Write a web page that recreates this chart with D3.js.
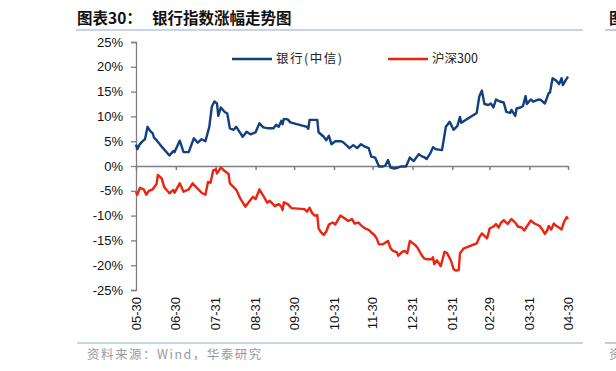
<!DOCTYPE html>
<html>
<head>
<meta charset="utf-8">
<script src="https://cdn.jsdelivr.net/npm/d3@7"></script>
<style>
  body { margin: 0; background: #fff; }
  svg { display: block; }
</style>
</head>
<body>
<svg width="616" height="371"></svg>
<script>
// 银行(中信) index, cumulative change in %
var bankDates = ["2023-05-30","2023-05-31","2023-06-02","2023-06-05","2023-06-06","2023-06-08","2023-06-10","2023-06-12","2023-06-13","2023-06-15",
  "2023-06-20","2023-06-25","2023-06-28","2023-06-29","2023-07-03","2023-07-06","2023-07-10","2023-07-14","2023-07-17","2023-07-20",
  "2023-07-23","2023-07-26","2023-07-28","2023-07-30","2023-08-01","2023-08-02","2023-08-04","2023-08-07","2023-08-09","2023-08-11",
  "2023-08-14","2023-08-16","2023-08-18","2023-08-21","2023-08-24","2023-08-27","2023-08-31","2023-09-03","2023-09-06","2023-09-10",
  "2023-09-14","2023-09-16","2023-09-18","2023-09-20","2023-09-21","2023-09-22","2023-09-25","2023-09-27","2023-10-10","2023-10-11",
  "2023-10-12","2023-10-18","2023-10-19","2023-10-23","2023-10-25","2023-10-27","2023-10-29","2023-11-01","2023-11-05","2023-11-07",
  "2023-11-10","2023-11-12","2023-11-15","2023-11-18","2023-11-21","2023-11-24","2023-11-27","2023-11-29","2023-12-02","2023-12-05",
  "2023-12-08","2023-12-10","2023-12-12","2023-12-14","2023-12-17","2023-12-20","2023-12-22","2023-12-26","2023-12-29","2024-01-01",
  "2024-01-05","2024-01-07","2024-01-09","2024-01-11","2024-01-14","2024-01-16","2024-01-18","2024-01-23","2024-01-26","2024-01-29",
  "2024-02-01","2024-02-04","2024-02-06","2024-02-07","2024-02-19","2024-02-21","2024-02-23","2024-02-25","2024-02-28","2024-03-01",
  "2024-03-03","2024-03-05","2024-03-08","2024-03-11","2024-03-13","2024-03-16","2024-03-17","2024-03-20","2024-03-21","2024-03-24",
  "2024-03-26","2024-03-28","2024-03-29","2024-04-01","2024-04-03","2024-04-07","2024-04-09","2024-04-12","2024-04-15","2024-04-16",
  "2024-04-18","2024-04-21","2024-04-23","2024-04-25","2024-04-26","2024-04-28","2024-04-30"];
var bankValues = [4.3,3.4,4.4,5.2,5.4,7.9,7.1,6.6,5.7,5.2,
  3.6,2.1,3.0,2.8,5.1,2.8,2.8,5.6,4.7,5.4,
  5.0,7.9,12.0,13.0,12.6,10.1,11.8,10.9,10.6,7.6,
  7.3,7.9,7.1,5.9,6.9,6.4,6.8,8.6,7.8,7.6,
  7.6,8.3,7.9,9.1,8.4,9.5,9.4,8.8,7.9,7.5,
  9.3,9.3,6.8,5.9,5.2,6.1,4.4,5.0,5.0,4.8,
  4.1,3.6,4.2,3.6,4.4,3.9,3.6,1.9,1.7,-0.1,
  -0.1,0.1,1.2,-0.3,-0.5,-0.3,-0.1,-0.1,1.7,1.0,
  2.4,2.0,1.8,1.4,2.6,3.8,3.4,3.2,7.9,8.9,
  7.3,8.1,9.9,8.7,10.7,14.0,15.2,12.5,12.3,12.6,
  11.8,13.4,13.0,12.8,10.9,10.7,11.3,10.1,11.6,11.8,
  12.1,14.1,12.5,13.4,13.0,13.4,13.3,12.6,14.7,14.8,
  17.7,17.2,16.5,17.7,16.3,17.2,18.0];

// 沪深300, cumulative change in %
var hsDates = ["2023-05-30","2023-05-31","2023-06-02","2023-06-05","2023-06-07","2023-06-09","2023-06-12","2023-06-15","2023-06-16","2023-06-19",
  "2023-06-21","2023-06-25","2023-06-28","2023-06-29","2023-07-03","2023-07-06","2023-07-10","2023-07-13","2023-07-16","2023-07-20",
  "2023-07-23","2023-07-25","2023-07-27","2023-07-29","2023-07-31","2023-08-01","2023-08-04","2023-08-06","2023-08-10","2023-08-11",
  "2023-08-16","2023-08-19","2023-08-23","2023-08-25","2023-08-29","2023-08-31","2023-09-03","2023-09-06","2023-09-09","2023-09-11",
  "2023-09-15","2023-09-18","2023-09-20","2023-09-21","2023-09-22","2023-09-25","2023-09-28","2023-10-08","2023-10-10","2023-10-12",
  "2023-10-14","2023-10-16","2023-10-18","2023-10-19","2023-10-21","2023-10-23","2023-10-25","2023-10-27","2023-10-30","2023-11-01",
  "2023-11-03","2023-11-05","2023-11-09","2023-11-11","2023-11-14","2023-11-16","2023-11-19","2023-11-22","2023-11-25","2023-11-27",
  "2023-11-29","2023-12-01","2023-12-03","2023-12-05","2023-12-08","2023-12-12","2023-12-14","2023-12-16","2023-12-19","2023-12-20",
  "2023-12-23","2023-12-25","2023-12-27","2023-12-29","2024-01-02","2024-01-04","2024-01-07","2024-01-09","2024-01-11","2024-01-15",
  "2024-01-16","2024-01-17","2024-01-19","2024-01-22","2024-01-25","2024-01-27","2024-01-30","2024-02-01","2024-02-03","2024-02-05",
  "2024-02-06","2024-02-09","2024-02-19","2024-02-21","2024-02-23","2024-02-25","2024-02-27","2024-02-28","2024-02-29","2024-03-03",
  "2024-03-05","2024-03-07","2024-03-09","2024-03-11","2024-03-14","2024-03-17","2024-03-20","2024-03-22","2024-03-25","2024-03-27",
  "2024-03-29","2024-04-01","2024-04-04","2024-04-08","2024-04-10","2024-04-12","2024-04-14","2024-04-15","2024-04-17","2024-04-19",
  "2024-04-21","2024-04-23","2024-04-25","2024-04-27","2024-04-29","2024-04-30"];
var hsValues = [-5.2,-5.8,-4.4,-4.7,-5.8,-5.0,-4.7,-3.6,-1.8,-2.5,
  -4.3,-5.5,-4.8,-5.4,-3.5,-5.2,-4.7,-3.5,-4.3,-5.4,
  -5.8,-3.2,-3.4,-0.9,-0.7,-1.5,-0.3,-0.8,-1.6,-3.5,
  -4.8,-6.5,-8.2,-7.5,-6.2,-6.7,-4.7,-6.0,-7.4,-7.0,
  -8.1,-7.7,-8.2,-8.9,-7.3,-7.7,-8.5,-8.7,-9.2,-8.4,
  -9.5,-10.0,-9.9,-12.6,-13.4,-13.9,-13.2,-11.8,-11.4,-11.8,
  -10.9,-10.0,-10.7,-11.1,-10.7,-11.6,-11.4,-12.2,-12.7,-12.9,
  -13.4,-13.8,-14.5,-15.8,-15.8,-15.1,-16.6,-17.1,-17.4,-18.1,
  -17.3,-17.1,-17.6,-15.1,-15.9,-16.5,-17.9,-18.6,-18.8,-18.8,
  -18.4,-19.8,-19.0,-20.2,-17.3,-17.6,-19.1,-20.8,-21.1,-21.0,
  -17.6,-16.6,-15.6,-14.4,-13.6,-14.1,-14.6,-13.7,-12.6,-12.2,
  -11.7,-12.4,-11.4,-10.9,-11.7,-10.7,-11.4,-12.2,-12.4,-13.0,
  -12.2,-11.0,-11.6,-12.1,-12.8,-13.7,-12.9,-12.1,-12.8,-11.6,
  -12.1,-12.4,-12.8,-11.2,-10.3,-10.7];

var tickDates = ["2023-05-30","2023-06-30","2023-07-31","2023-08-31","2023-09-30","2023-10-31",
  "2023-11-30","2023-12-31","2024-01-31","2024-02-29","2024-03-31","2024-04-30"];
var yTicks = [-25,-20,-15,-10,-5,0,5,10,15,20,25];
var seriesNames = ["银行(中信)", "沪深300"];

var parse = d3.timeParse("%Y-%m-%d");
var latin = "'Liberation Sans', Arial, sans-serif",
    cjk = "'Noto Sans CJK SC', 'Noto Sans', sans-serif";
var blue = "#123f80", red = "#ec2311";

var svg = d3.select("svg"),
    margin = {top: 42, right: 48, bottom: 81, left: 136},
    width = +svg.attr("width"),
    height = +svg.attr("height");

var x = d3.scaleTime()
    .domain([parse(tickDates[0]), parse(tickDates[tickDates.length - 1])])
    .range([margin.left, width - margin.right]);
var y = d3.scaleLinear().domain([-25, 25]).range([height - margin.bottom, margin.top]);

var bank = d3.zip(bankDates.map(parse), bankValues),
    hs = d3.zip(hsDates.map(parse), hsValues);

// title + rules
function title(xp, s) {
  svg.append("text").attr("x", xp).attr("y", 24)
      .attr("font-family", cjk).attr("font-weight", "bold").attr("font-size", 15.5).attr("fill", "#111")
      .text(s);
}
title(77, "图表30：");
title(152, "银行指数涨幅走势图");
title(609, "图");
svg.append("line").attr("x1", 76).attr("x2", 583).attr("y1", 30).attr("y2", 30)
    .attr("stroke", "#8faad2").attr("stroke-width", 1.2);
svg.append("line").attr("x1", 605).attr("x2", 616).attr("y1", 30).attr("y2", 30)
    .attr("stroke", "#8faad2").attr("stroke-width", 1.2);

// y axis
var yAxis = svg.append("g")
    .attr("transform", "translate(" + margin.left + ",0)")
    .call(d3.axisLeft(y).tickValues(yTicks).tickSize(5).tickPadding(8)
      .tickFormat(function(d) { return d + "%"; }));
yAxis.selectAll("text").attr("font-family", latin).attr("font-size", 13).attr("fill", "#111");
yAxis.selectAll("line, path").attr("stroke", "#7f7f7f").attr("stroke-width", 1.3);

// x axis along zero
var xAxis = svg.append("g")
    .attr("transform", "translate(0," + y(0) + ")")
    .call(d3.axisBottom(x).tickValues(tickDates.map(parse)).tickSize(4).tickSizeOuter(0)
      .tickFormat(""));
xAxis.selectAll("line, path").attr("stroke", "#7f7f7f").attr("stroke-width", 1.5);

// date labels at bottom, rotated
svg.append("g").selectAll("text")
    .data(tickDates)
    .enter().append("text")
      .attr("transform", function(d) { return "translate(" + x(parse(d)) + "," + 297 + ") rotate(-90)"; })
      .attr("text-anchor", "end")
      .attr("dy", "0.35em")
      .attr("font-family", latin).attr("font-size", 13).attr("fill", "#111")
      .text(function(d) { return d.slice(5); });

var line = d3.line()
    .x(function(d) { return x(d[0]); })
    .y(function(d) { return y(d[1]); });

svg.append("path").datum(hs)
    .attr("fill", "none").attr("stroke", red).attr("stroke-width", 2.4)
    .attr("stroke-linejoin", "round").attr("d", line);
svg.append("path").datum(bank)
    .attr("fill", "none").attr("stroke", blue).attr("stroke-width", 2.4)
    .attr("stroke-linejoin", "round").attr("d", line);

// legend
var legend = svg.append("g").selectAll("g")
    .data(seriesNames)
    .enter().append("g")
      .attr("transform", function(d, i) { return "translate(" + (i ? 388 : 232) + ",59)"; });
legend.append("line").attr("x1", 0).attr("x2", 40)
    .attr("stroke", function(d, i) { return i ? red : blue; }).attr("stroke-width", 2.4);
legend.append("text").attr("x", 44).attr("dy", "0.35em")
    .attr("font-family", cjk).attr("font-size", 12.5).attr("fill", "#222")
    .attr("letter-spacing", function(d, i) { return i ? 0 : 1.5; })
    .text(function(d) { return d; });

// source
svg.append("line").attr("x1", 77).attr("x2", 583).attr("y1", 343).attr("y2", 343)
    .attr("stroke", "#8faad2").attr("stroke-width", 1.2);
svg.append("line").attr("x1", 605).attr("x2", 616).attr("y1", 343).attr("y2", 343)
    .attr("stroke", "#8faad2").attr("stroke-width", 1.2);
svg.append("text").attr("x", 87).attr("y", 359)
    .attr("font-family", cjk).attr("font-size", 12.5).attr("fill", "#9a9a9a")
    .attr("letter-spacing", 1.5)
    .text("资料来源：Wind，华泰研究");
svg.append("text").attr("x", 609).attr("y", 359)
    .attr("font-family", cjk).attr("font-size", 12.5).attr("fill", "#9a9a9a")
    .text("资");
</script>
</body>
</html>
